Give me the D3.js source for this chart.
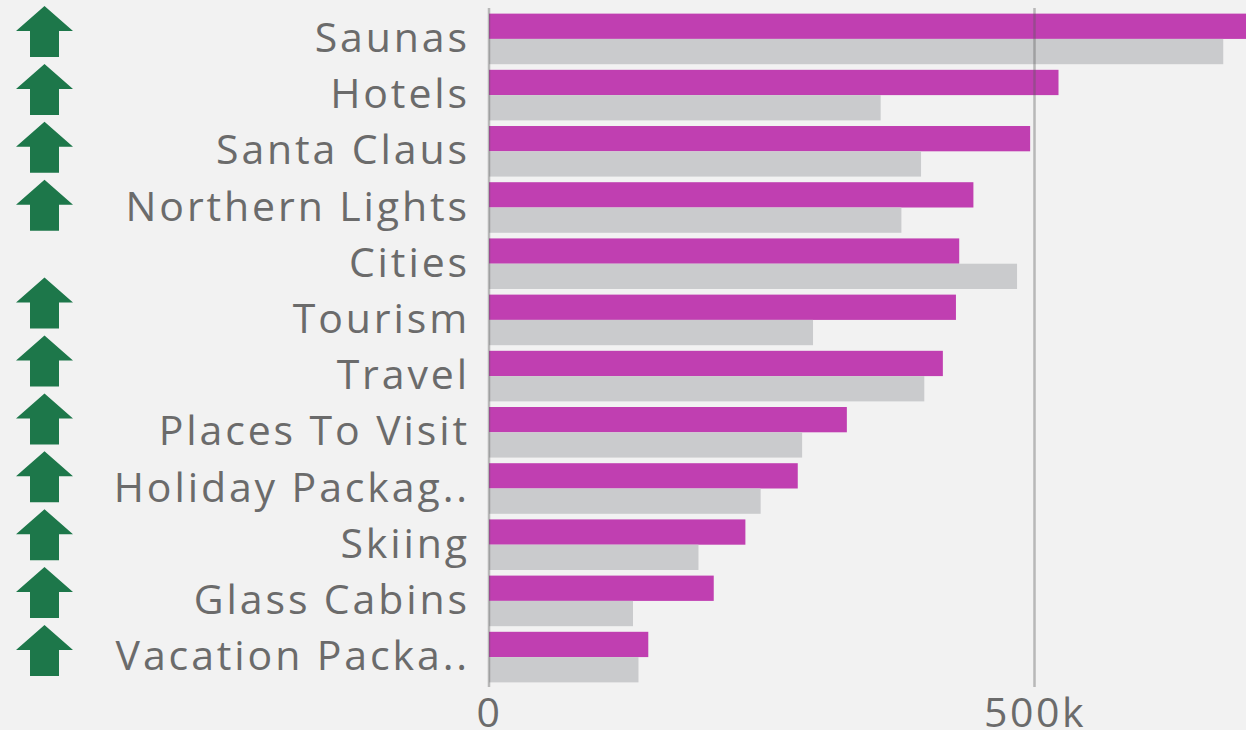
<!DOCTYPE html>
<html>
<head>
<meta charset="utf-8">
<script src="https://cdn.jsdelivr.net/npm/d3@7"></script>
<style>
  html, body { margin: 0; padding: 0; background: #f2f2f2; overflow: hidden; }
  svg { display: block; }
  text { font-family: "Open Sans", "Noto Sans", sans-serif; fill: #6b6b6b; }
</style>
</head>
<body>
<svg id="chart" width="1246" height="730"></svg>
<script>
// ---- data ----
const categories = ["Saunas", "Hotels", "Santa Claus", "Northern Lights", "Cities", "Tourism",
  "Travel", "Places To Visit", "Holiday Packag..", "Skiing", "Glass Cabins", "Vacation Packa.."];
const currentValues = [700000, 522000, 496000, 444000, 431000, 428000, 416000, 328000, 283000, 235000, 206000, 146000];
const previousValues = [673000, 359000, 396000, 378000, 484000, 297000, 399000, 287000, 249000, 192000, 132000, 137000];
const trendUp = [true, true, true, true, false, true, true, true, true, true, true, true];
const tickValues = [0, 500000];
const tickLabels = ["0", "500k"];

// ---- layout ----
const W = 1246, H = 730;
const plotLeft = 489, plotTop = 8, plotBottom = 688;
const svg = d3.select("#chart");

const x = d3.scaleLinear().domain([0, 500000]).range([plotLeft, plotLeft + 545.5]);
const y = d3.scaleBand().domain(categories).range([plotTop, plotBottom]).padding(0.1);
const sub = d3.scaleBand().domain(["cur", "prev"]).range([0, y.bandwidth()]);

// clip for bars (the chart clips at its right edge)
svg.append("defs").append("clipPath").attr("id", "plotclip")
  .append("rect").attr("x", plotLeft).attr("y", 0).attr("width", W - plotLeft).attr("height", H);

const bars = svg.append("g").attr("clip-path", "url(#plotclip)");
const rows = bars.selectAll("g.row").data(categories).join("g")
  .attr("class", "row")
  .attr("transform", d => `translate(0,${y(d)})`);

rows.append("rect")
  .attr("x", x(0))
  .attr("y", sub("cur"))
  .attr("height", sub.bandwidth())
  .attr("width", (d, i) => x(currentValues[i]) - x(0))
  .attr("fill", "#c03fb1");

rows.append("rect")
  .attr("x", x(0))
  .attr("y", sub("prev"))
  .attr("height", sub.bandwidth())
  .attr("width", (d, i) => x(previousValues[i]) - x(0))
  .attr("fill", "#cacbcd");

// grid / axis lines drawn over bars
svg.append("g").selectAll("line").data(tickValues).join("line")
  .attr("x1", d => x(d)).attr("x2", d => x(d))
  .attr("y1", plotTop).attr("y2", plotBottom - 1)
  .attr("stroke", "rgba(90,90,90,0.38)")
  .attr("stroke-width", 2.5);

// x tick labels
const xAxis = d3.axisBottom(x).tickValues(tickValues)
  .tickFormat((d, i) => tickLabels[i]).tickSize(0).tickPadding(0);
const gx = svg.append("g").attr("transform", `translate(0,${plotBottom})`).call(xAxis);
gx.select(".domain").remove();
gx.selectAll("text")
  .attr("y", 39)
  .attr("dy", 0)
  .style("font-size", "41px")
  .style("letter-spacing", "2.5px")
  .style("font-family", "'Open Sans', sans-serif")
  .attr("fill", "#6b6b6b");

// category labels
const yAxis = d3.axisLeft(y).tickSize(0).tickPadding(19);
const gy = svg.append("g").attr("transform", `translate(${plotLeft},0)`).call(yAxis);
gy.select(".domain").remove();
gy.selectAll("text")
  .attr("dy", "0.32em")
  .attr("y", 0)
  .style("font-size", "41px")
  .style("letter-spacing", "2.9px")
  .style("font-family", "'Open Sans', sans-serif")
  .attr("fill", "#6b6b6b");

// trend arrows (list layout: empty cell collapses)
let cursor = 6;
const arrowPos = [];
trendUp.forEach((up, i) => {
  arrowPos.push(up ? cursor : null);
  cursor += up ? 57.9 : 40;
});
const aw = 57, ah = 51, headH = 25, stemW = 29;
const arrowPath = `M${aw / 2},0 L${aw},${headH} L${(aw + stemW) / 2},${headH} L${(aw + stemW) / 2},${ah} ` +
  `L${(aw - stemW) / 2},${ah} L${(aw - stemW) / 2},${headH} L0,${headH} Z`;
svg.append("g").selectAll("path").data(categories.filter((d, i) => trendUp[i]))
  .join("path")
  .attr("d", arrowPath)
  .attr("transform", d => `translate(16,${arrowPos[categories.indexOf(d)]})`)
  .attr("fill", "#1d774a");
</script>
</body>
</html>
